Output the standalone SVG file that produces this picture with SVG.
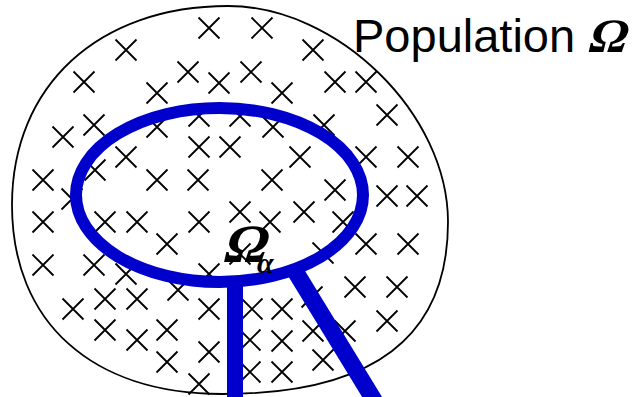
<svg xmlns="http://www.w3.org/2000/svg" xmlns:xlink="http://www.w3.org/1999/xlink" width="637" height="397" viewBox="0 0 637 397">
<style>
.pop{fill:none;stroke:#000;stroke-width:1.8}
.cross{fill:none;stroke:#000;stroke-width:1.8}
.blue{fill:none;stroke:#0000cc}
.lbl{font-family:"Liberation Sans",Arial,sans-serif;font-size:47px;fill:#000}
.greek{font-family:"Liberation Serif","Times New Roman",serif;font-weight:bold;fill:#000}
.sub{font-family:"Liberation Serif","Times New Roman",serif;font-style:italic;font-weight:bold;fill:#000}
</style>
<defs>
<path id="x" class="cross" d="M-10.5,-10.5 L10.5,10.5 M10.5,-10.5 L-10.5,10.5"/>
</defs>
<g id="population">
<path class="pop" d="M12,205 C12,85.6 98.4,6 228,6 C338,6 448,114 448,222 C448,337.2 373.4,394 222,394 C91.8,394 12,322.2 12,205 Z"/>
<g id="units">
<use href="#x" x="209" y="28"/><use href="#x" x="262" y="28"/>
<use href="#x" x="126" y="50"/><use href="#x" x="313" y="50"/>
<use href="#x" x="188" y="72"/><use href="#x" x="251" y="72"/>
<use href="#x" x="84" y="82"/><use href="#x" x="219" y="83"/><use href="#x" x="335" y="82"/><use href="#x" x="366" y="82"/>
<use href="#x" x="157" y="93"/><use href="#x" x="282" y="93"/>
<use href="#x" x="199" y="116"/><use href="#x" x="240" y="116"/><use href="#x" x="387" y="115"/>
<use href="#x" x="94" y="125"/><use href="#x" x="324" y="125"/><use href="#x" x="157" y="127"/><use href="#x" x="273" y="127"/>
<use href="#x" x="63" y="137"/>
<use href="#x" x="199" y="147"/><use href="#x" x="230" y="147"/>
<use href="#x" x="126" y="157"/><use href="#x" x="300" y="157"/><use href="#x" x="366" y="157"/><use href="#x" x="408" y="157"/>
<use href="#x" x="95" y="170"/>
<use href="#x" x="43" y="180"/><use href="#x" x="157" y="180"/><use href="#x" x="198" y="180"/><use href="#x" x="272" y="180"/>
<use href="#x" x="335" y="190"/><use href="#x" x="387" y="196"/><use href="#x" x="417" y="196"/>
<use href="#x" x="72" y="199"/>
<use href="#x" x="240" y="212"/><use href="#x" x="304" y="212"/>
<use href="#x" x="43" y="222"/><use href="#x" x="105" y="222"/><use href="#x" x="137" y="222"/><use href="#x" x="199" y="222"/><use href="#x" x="270" y="222"/><use href="#x" x="343" y="222"/>
<use href="#x" x="167" y="244"/><use href="#x" x="366" y="244"/><use href="#x" x="408" y="244"/>
<use href="#x" x="240" y="254"/><use href="#x" x="323" y="253"/>
<use href="#x" x="43" y="265"/><use href="#x" x="94" y="265"/>
<use href="#x" x="126" y="274"/><use href="#x" x="209" y="274"/>
<use href="#x" x="178" y="290"/><use href="#x" x="355" y="287"/><use href="#x" x="397" y="287"/>
<use href="#x" x="105" y="299"/><use href="#x" x="137" y="299"/><use href="#x" x="312" y="297"/>
<use href="#x" x="73" y="309"/><use href="#x" x="209" y="309"/><use href="#x" x="252" y="309"/><use href="#x" x="282" y="309"/>
<use href="#x" x="387" y="321"/>
<use href="#x" x="105" y="330"/><use href="#x" x="167" y="330"/><use href="#x" x="313" y="331"/><use href="#x" x="345" y="331"/>
<use href="#x" x="137" y="340"/><use href="#x" x="250" y="340"/><use href="#x" x="282" y="341"/>
<use href="#x" x="209" y="352"/>
<use href="#x" x="167" y="362"/><use href="#x" x="323" y="360"/>
<use href="#x" x="250" y="372"/><use href="#x" x="282" y="372"/>
<use href="#x" x="199" y="384"/>
</g>
</g>
<g id="connectors">
<line class="blue" x1="235" y1="282" x2="235" y2="402" stroke-width="16"/>
<line class="blue" x1="292" y1="266" x2="377" y2="405" stroke-width="17"/>
</g>
<g id="sample">
<ellipse class="blue" cx="219.5" cy="195" rx="143.5" ry="87" stroke-width="12"/>
</g>
<g id="label-population">
<text class="lbl" x="353" y="52">Population</text>
<text class="greek" font-size="48" transform="translate(586,52) skewX(-16)">Ω</text>
</g>
<g id="label-sample">
<text class="greek" font-size="54" transform="translate(221,262) skewX(-16)">Ω</text>
<text class="sub" x="257" y="273" font-size="30">α</text>
</g>
</svg>
